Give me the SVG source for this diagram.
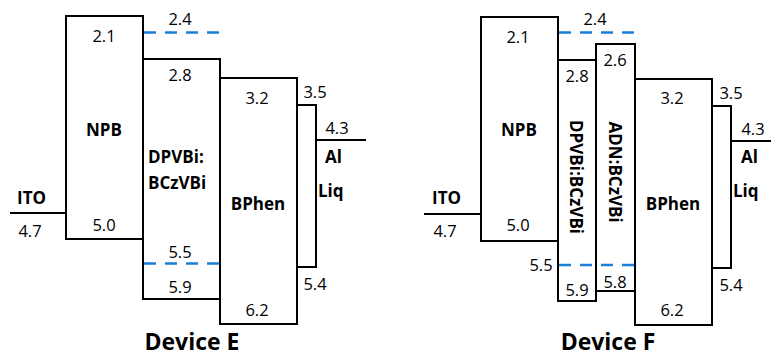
<svg xmlns="http://www.w3.org/2000/svg" width="771" height="358" viewBox="0 0 771 358">
<style>
.box{fill:#fff;stroke:#000;stroke-width:2}
.ln{fill:none;stroke:#000;stroke-width:2}
.dash{fill:none;stroke:#1a7fd9;stroke-width:2.5;stroke-dasharray:12,9}
text{font-family:"Open Sans","DejaVu Sans",sans-serif;fill:#000}
.n{font-size:16.5px;text-anchor:middle}
.b{font-size:17px;font-weight:bold}
.c{text-anchor:middle}
.t{font-size:23px;font-weight:bold;text-anchor:middle}
</style>
<rect width="771" height="358" fill="#fff"/>
<g id="deviceE">
  <g id="E-ITO"><path class="ln" d="M10,213 H66"/><text class="b" x="17" y="204">ITO</text><text class="n" x="30" y="237">4.7</text></g>
  <g id="E-NPB"><rect class="box" x="66" y="16" width="77" height="223"/><text class="n" x="104" y="42">2.1</text><text class="b c" x="104" y="136">NPB</text><text class="n" x="104" y="231">5.0</text></g>
  <g id="E-DPVBi"><rect class="box" x="143" y="59" width="77" height="240"/><text class="n" x="180" y="81">2.8</text><text class="b" x="148" y="163">DPVBi:</text><text class="b" x="148" y="189">BCzVBi</text><text class="n" x="180" y="293">5.9</text></g>
  <g id="E-BPhen"><rect class="box" x="220" y="78" width="77" height="246"/><text class="n" x="257" y="104">3.2</text><text class="b c" x="258" y="210">BPhen</text><text class="n" x="257" y="316">6.2</text></g>
  <g id="E-Liq"><rect class="box" x="297" y="105" width="19" height="162"/><text class="n" x="315" y="98">3.5</text><text class="b" x="318" y="197">Liq</text><text class="n" x="315" y="290">5.4</text></g>
  <g id="E-Al"><path class="ln" d="M316,140 H366"/><text class="n" x="337" y="134">4.3</text><text class="b" x="325" y="163">Al</text></g>
  <g id="E-BCzVBi-levels"><path class="dash" d="M144,32.5 H220"/><text class="n" x="180" y="25">2.4</text><path class="dash" d="M144,263.5 H220"/><text class="n" x="180" y="258">5.5</text></g>
  <text class="t" x="192" y="350">Device E</text>
</g>
<g id="deviceF">
  <g id="F-ITO"><path class="ln" d="M424,214 H481"/><text class="b" x="432" y="204">ITO</text><text class="n" x="445" y="237">4.7</text></g>
  <g id="F-NPB"><rect class="box" x="481" y="17" width="77" height="224"/><text class="n" x="518" y="43">2.1</text><text class="b c" x="519" y="136">NPB</text><text class="n" x="518" y="231">5.0</text></g>
  <g id="F-DPVBi"><rect class="box" x="558" y="60" width="38" height="241"/><text class="n" x="577" y="82">2.8</text><text class="b c" transform="translate(576,177) rotate(90)" x="0" y="6">DPVBi:BCzVBi</text><text class="n" x="577" y="296">5.9</text></g>
  <g id="F-ADN"><rect class="box" x="596" y="44" width="39" height="247"/><text class="n" x="615" y="66">2.6</text><text class="b c" transform="translate(615,172) rotate(90)" x="0" y="6">ADN:BCzVBi</text><text class="n" x="615" y="288">5.8</text></g>
  <g id="F-BPhen"><rect class="box" x="635" y="79" width="77" height="246"/><text class="n" x="672" y="104">3.2</text><text class="b c" x="673" y="210">BPhen</text><text class="n" x="672" y="316">6.2</text></g>
  <g id="F-Liq"><rect class="box" x="712" y="106" width="19" height="162"/><text class="n" x="731" y="99">3.5</text><text class="b" x="733" y="197">Liq</text><text class="n" x="731" y="291">5.4</text></g>
  <g id="F-Al"><path class="ln" d="M731,141 H771"/><text class="n" x="753" y="135">4.3</text><text class="b" x="741" y="163">Al</text></g>
  <g id="F-BCzVBi-levels"><path class="dash" d="M559,32.5 H635"/><text class="n" x="595" y="25">2.4</text><path class="dash" d="M559,265 H635"/><text class="n" x="541" y="271">5.5</text></g>
  <text class="t" x="608" y="350">Device F</text>
</g>
</svg>
